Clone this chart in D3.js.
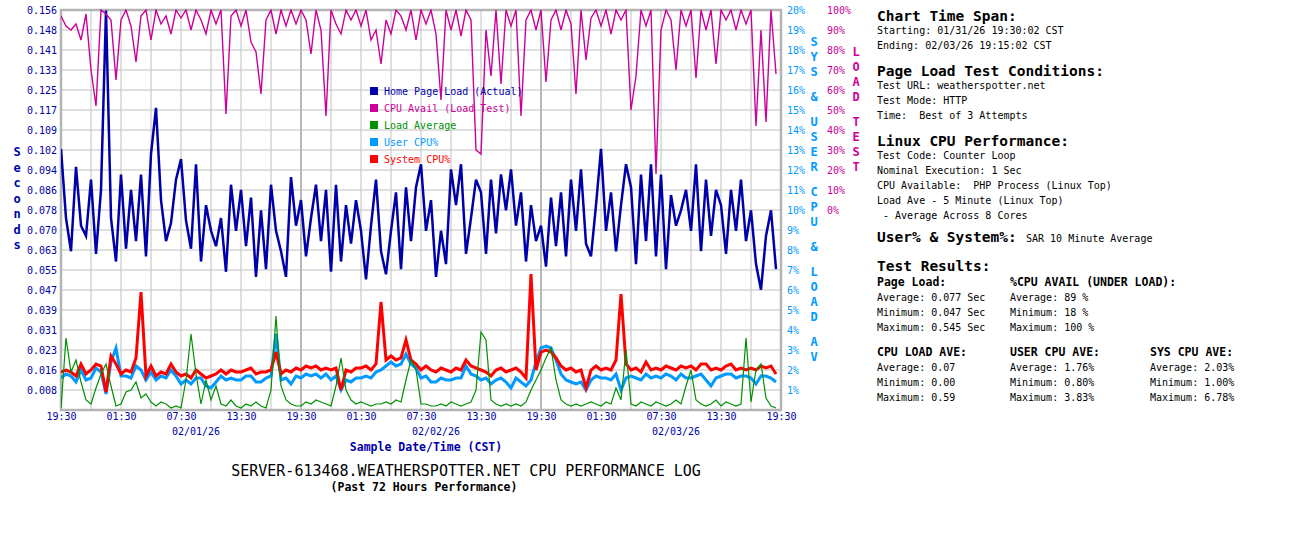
<!DOCTYPE html>
<html>
<head>
<meta charset="utf-8">
<script src="https://cdn.jsdelivr.net/npm/d3@7"></script>
<style>
  body { margin: 0; background: #fff; }
  text { font-family: "DejaVu Sans Mono", monospace; white-space: pre; }
</style>
</head>
<body>
<div id="chart"></div>
<script>
// samples every 30 min starting 01/31/26 19:30 CST
const pageLoad = [
  0.102, 0.075, 0.062, 0.095, 0.072, 0.068, 0.090, 0.061, 0.086, 0.156, 0.075, 0.058,
  0.092, 0.063, 0.086, 0.066, 0.092, 0.060, 0.100, 0.118, 0.082, 0.066, 0.073, 0.090,
  0.098, 0.074, 0.063, 0.096, 0.058, 0.080, 0.070, 0.064, 0.075, 0.054, 0.088, 0.070,
  0.086, 0.064, 0.083, 0.052, 0.078, 0.055, 0.088, 0.070, 0.062, 0.052, 0.091, 0.072,
  0.082, 0.060, 0.075, 0.088, 0.066, 0.086, 0.054, 0.088, 0.058, 0.080, 0.065, 0.082,
  0.070, 0.051, 0.072, 0.090, 0.062, 0.053, 0.070, 0.085, 0.055, 0.087, 0.066, 0.087,
  0.096, 0.070, 0.082, 0.052, 0.070, 0.057, 0.094, 0.080, 0.096, 0.061, 0.075, 0.090,
  0.085, 0.061, 0.090, 0.069, 0.092, 0.078, 0.094, 0.072, 0.085, 0.058, 0.080, 0.066,
  0.072, 0.056, 0.083, 0.064, 0.085, 0.060, 0.090, 0.070, 0.094, 0.065, 0.060, 0.080,
  0.102, 0.070, 0.085, 0.062, 0.080, 0.096, 0.087, 0.057, 0.092, 0.066, 0.096, 0.060,
  0.092, 0.055, 0.084, 0.072, 0.078, 0.086, 0.070, 0.096, 0.062, 0.090, 0.068, 0.086,
  0.080, 0.061, 0.086, 0.070, 0.090, 0.066, 0.078, 0.057, 0.047, 0.068, 0.078, 0.055
];
const cpuAvail = [
  97, 92, 90, 93, 85, 98, 70, 52, 100, 98, 95, 65,
  95, 100, 92, 74, 97, 100, 85, 100, 93, 97, 88, 100,
  96, 100, 90, 100, 95, 88, 100, 93, 100, 48, 97, 100,
  92, 100, 84, 79, 58, 95, 100, 88, 100, 92, 100, 93,
  100, 95, 78, 100, 90, 47, 100, 93, 88, 100, 95, 100,
  92, 100, 85, 90, 73, 95, 88, 100, 97, 90, 100, 85,
  100, 93, 100, 88, 55, 100, 90, 100, 87, 100, 95, 30,
  28, 90, 67, 100, 63, 100, 92, 100, 47, 95, 100, 90,
  100, 64, 95, 100, 90, 100, 93, 58, 100, 75, 96, 100,
  92, 100, 88, 100, 95, 100, 50, 67, 100, 92, 100, 18,
  90, 100, 95, 70, 100, 92, 100, 66, 100, 90, 100, 73,
  100, 95, 100, 90, 100, 93, 100, 42, 90, 44, 100, 68
];
// load average, plotted on the % axis
const loadAvg = [
  0.1, 3.6, 1.9, 2.5, 1.4, 0.5, 0.3, 1.1, 1.8, 2.3, 1.2, 0.2,
  0.3, 0.9, 1.0, 1.4, 0.6, 0.8, 0.4, 0.2, 0.4, 0.3, 0.1, 0.2,
  0.1, 1.5, 3.8, 1.8, 0.3, 1.5, 0.5, 1.2, 0.3, 0.2, 0.5, 0.2,
  0.1, 0.3, 0.2, 0.4, 0.2, 0.1, 1.0, 4.7, 1.2, 0.5, 0.3, 0.2,
  0.2, 0.4, 0.3, 0.5, 0.4, 0.3, 0.2, 1.2, 2.6, 1.0, 0.5, 0.3,
  0.4, 0.3, 0.2, 0.3, 0.3, 0.4, 0.3, 0.5, 0.4, 1.5, 2.5, 2.0,
  0.3, 0.3, 0.2, 0.2, 0.3, 0.2, 0.4, 0.3, 0.2, 0.3, 0.4, 1.0,
  3.9, 3.5, 0.5, 0.3, 0.2, 0.3, 0.2, 0.3, 0.2, 0.4, 1.0, 1.5,
  2.0, 2.6, 3.1, 1.5, 0.5, 0.3, 0.2, 0.3, 0.2, 0.3, 0.4, 0.3,
  0.2, 0.4, 0.3, 1.1, 0.5, 3.0, 0.3, 0.2, 0.4, 0.3, 0.2, 0.4,
  0.3, 0.2, 0.3, 0.5, 0.3, 1.2, 2.0, 0.5, 0.3, 0.2, 0.3, 0.5,
  0.2, 0.4, 0.3, 0.2, 0.3, 3.6, 0.4, 2.0, 2.3, 0.6, 0.2, 0.1
];
const userCpu = [
  1.6, 1.8, 1.7, 1.4, 2.0, 1.5, 1.6, 2.1, 1.9, 0.8, 2.4, 3.1,
  1.7, 1.7, 1.6, 2.2, 2.0, 1.5, 1.9, 1.5, 1.7, 1.6, 2.0, 1.7,
  1.3, 1.5, 1.3, 1.6, 1.6, 1.2, 1.1, 1.4, 1.7, 1.5, 1.6, 1.5,
  1.5, 1.7, 1.7, 1.4, 1.4, 1.6, 1.7, 3.8, 1.5, 1.6, 1.3, 1.7,
  1.6, 1.8, 1.7, 1.8, 1.6, 1.8, 1.5, 1.7, 1.0, 1.5, 1.4, 1.6,
  1.6, 1.7, 1.6, 1.9, 2.0, 2.2, 2.4, 2.2, 2.3, 2.8, 2.3, 2.1,
  1.6, 1.7, 1.4, 1.4, 1.6, 1.5, 1.5, 1.6, 1.6, 2.2, 1.8, 1.7,
  1.5, 1.6, 1.3, 1.5, 1.6, 1.4, 1.1, 1.6, 1.4, 1.2, 1.5, 2.4,
  3.1, 3.2, 3.1, 2.5, 1.8, 1.5, 1.4, 1.3, 1.4, 1.0, 1.5, 1.7,
  1.6, 1.6, 1.5, 1.8, 1.0, 1.6, 1.7, 1.6, 1.5, 1.8, 1.6, 1.7,
  1.6, 1.8, 1.7, 1.5, 1.8, 1.6, 1.6, 1.7, 1.8, 1.5, 1.2, 1.6,
  1.7, 1.8, 1.8, 1.6, 1.7, 1.7, 1.6, 1.3, 1.7, 1.7, 1.6, 1.4
];
const sysCpu = [
  1.9, 2.0, 1.9, 1.7, 2.3, 1.8, 2.0, 2.3, 2.2, 0.9, 2.7, 2.3,
  1.8, 2.0, 1.9, 2.6, 5.9, 1.7, 2.2, 1.7, 1.9, 1.8, 2.3, 1.9,
  1.7, 1.8, 1.6, 2.0, 1.8, 1.6, 1.7, 1.8, 2.0, 1.8, 2.0, 1.9,
  1.9, 2.0, 2.1, 1.8, 1.9, 1.9, 2.0, 2.9, 1.8, 2.0, 1.9, 2.1,
  2.0, 2.2, 2.1, 2.2, 2.0, 2.1, 2.0, 2.1, 1.0, 2.0, 1.9, 2.1,
  2.1, 2.2, 2.0, 2.3, 5.4, 2.5, 2.7, 2.5, 2.6, 3.5, 2.5, 2.3,
  2.0, 2.2, 2.0, 1.9, 2.1, 2.0, 1.9, 2.1, 2.0, 2.5, 2.2, 2.1,
  2.0, 1.9, 1.7, 2.0, 2.1, 1.9, 2.0, 2.1, 1.9, 1.6, 6.8, 2.0,
  2.9, 3.0, 2.9, 2.6, 2.2, 2.0, 2.1, 1.9, 2.0, 1.1, 2.0, 2.2,
  2.0, 2.1, 2.0, 2.5, 5.8, 2.3, 2.0, 2.1, 1.9, 2.4, 2.0, 2.1,
  2.0, 2.2, 2.1, 2.0, 2.2, 2.1, 2.2, 2.0, 2.3, 2.3, 2.0, 2.1,
  2.0, 2.2, 2.3, 2.0, 2.1, 2.0, 2.1, 2.0, 2.2, 2.1, 2.2, 1.8
];

const secTicks = ["0.008", "0.016", "0.023", "0.031", "0.039", "0.047", "0.055", "0.063", "0.070", "0.078",
  "0.086", "0.094", "0.102", "0.109", "0.117", "0.125", "0.133", "0.141", "0.148", "0.156"];
const pctTicks = ["1%", "2%", "3%", "4%", "5%", "6%", "7%", "8%", "9%", "10%",
  "11%", "12%", "13%", "14%", "15%", "16%", "17%", "18%", "19%", "20%"];
const testTicks = ["0%", "10%", "20%", "30%", "40%", "50%", "60%", "70%", "80%", "90%", "100%"];
const hourTicks = ["19:30", "01:30", "07:30", "13:30", "19:30", "01:30", "07:30", "13:30",
  "19:30", "01:30", "07:30", "13:30", "19:30"];
const dayLabels = ["02/01/26", "02/02/26", "02/03/26"];

const legendNames = ["Home Page Load (Actual)", "CPU Avail (Load Test)", "Load Average", "User CPU%", "System CPU%"];
const colors = { load: "#0000aa", avail: "#cc0099", loadAvg: "#009000", user: "#0099ff", sys: "#ff0000" };
const legendColors = [colors.load, colors.avail, colors.loadAvg, colors.user, colors.sys];

const width = 1300, height = 550;
const plot = { left: 61, right: 781, top: 10, bottom: 410 };

const svg = d3.select("#chart").append("svg")
  .attr("width", width).attr("height", height)
  .attr("viewBox", [0, 0, width, height]);

const t0 = new Date(2026, 0, 31, 19, 30);
const t1 = d3.timeHour.offset(t0, 72);
const times = pageLoad.map((d, i) => d3.timeMinute.offset(t0, 30 * i));

const x = d3.scaleTime().domain([t0, t1]).range([plot.left, plot.right]);
const ySec = d3.scaleLinear().domain([0, 0.15625]).range([plot.bottom, plot.top]);
const yPct = d3.scaleLinear().domain([0, 20]).range([plot.bottom, plot.top]);
const yTest = d3.scaleLinear().domain([0, 100]).range([210, plot.top]);

// grid
const secVals = secTicks.map((s, i) => (i + 1) * 0.15625 / 20);
svg.append("g").selectAll("line").data(secVals).join("line")
  .attr("x1", plot.left).attr("x2", plot.right)
  .attr("y1", d => ySec(d)).attr("y2", d => ySec(d))
  .attr("stroke", "#c0c0c0").attr("stroke-width", 1);

const gridTimes = d3.range(1, 24).map(k => d3.timeHour.offset(t0, 3 * k));
svg.append("g").selectAll("line").data(gridTimes).join("line")
  .attr("x1", d => x(d)).attr("x2", d => x(d))
  .attr("y1", plot.top).attr("y2", plot.bottom)
  .attr("stroke", (d, i) => (i + 1) % 8 === 0 ? "#b8b8b8" : "#c0c0c0")
  .attr("stroke-width", (d, i) => (i + 1) % 8 === 0 ? 2 : 1);

svg.append("rect")
  .attr("x", plot.left).attr("y", plot.top)
  .attr("width", plot.right - plot.left).attr("height", plot.bottom - plot.top)
  .attr("fill", "none").attr("stroke", "#b4b4b4").attr("stroke-width", 2.5);

// axes
function styleAxis(g, color) {
  g.select(".domain").remove();
  g.selectAll("text").attr("fill", color)
    .attr("font-family", "DejaVu Sans Mono, monospace").attr("font-size", 10);
}

svg.append("g").attr("transform", `translate(${plot.left},0)`)
  .call(d3.axisLeft(ySec).tickValues(secVals).tickFormat((d, i) => secTicks[i]).tickSize(0).tickPadding(4))
  .call(g => styleAxis(g, colors.load));

svg.append("g").attr("transform", `translate(${plot.right + 3},0)`)
  .call(d3.axisRight(yPct).tickValues(pctTicks.map((s, i) => i + 1)).tickFormat((d, i) => pctTicks[i]).tickSize(0).tickPadding(3))
  .call(g => styleAxis(g, colors.user));

svg.append("g").attr("transform", `translate(${plot.right + 43},0)`)
  .call(d3.axisRight(yTest).tickValues(testTicks.map((s, i) => i * 10)).tickFormat((d, i) => testTicks[i]).tickSize(0).tickPadding(3))
  .call(g => styleAxis(g, colors.avail));

const hourVals = hourTicks.map((s, i) => d3.timeHour.offset(t0, 6 * i));
svg.append("g").attr("transform", `translate(0,${plot.bottom})`)
  .call(d3.axisBottom(x).tickValues(hourVals).tickFormat((d, i) => hourTicks[i]).tickSize(0).tickPadding(3))
  .call(g => styleAxis(g, colors.load));

svg.append("g").selectAll("text").data(dayLabels).join("text")
  .attr("x", (d, i) => x(d3.timeHour.offset(new Date(2026, 1, 1 + i), 9)))
  .attr("y", 435).attr("text-anchor", "middle")
  .attr("font-size", 10).attr("fill", colors.load)
  .text(d => d);

svg.append("text").attr("x", 426).attr("y", 451).attr("text-anchor", "middle")
  .attr("font-size", 11.5).attr("font-weight", "bold").attr("fill", colors.load)
  .text("Sample Date/Time (CST)");

svg.append("text").attr("x", 466).attr("y", 476).attr("text-anchor", "middle")
  .attr("font-size", 15).attr("fill", "#000")
  .text("SERVER-613468.WEATHERSPOTTER.NET CPU PERFORMANCE LOG");
svg.append("text").attr("x", 424).attr("y", 491).attr("text-anchor", "middle")
  .attr("font-size", 11.5).attr("font-weight", "bold").attr("fill", "#000")
  .text("(Past 72 Hours Performance)");

// vertical axis titles, one character per line
function vertical(str, cx, y0, step, gap, color) {
  let y = y0;
  const g = svg.append("g");
  for (const ch of str) {
    if (ch === " ") { y += gap; continue; }
    g.append("text").attr("x", cx).attr("y", y).attr("dy", "0.35em")
      .attr("text-anchor", "middle").attr("font-size", 12).attr("font-weight", "bold")
      .attr("fill", color).text(ch);
    y += step;
  }
}
vertical("Seconds", 17, 152, 15.5, 0, colors.load);
vertical("SYS & USER CPU & LOAD AV", 814, 42, 15, 10, colors.user);
vertical("LOAD TEST", 856, 52, 15, 10, colors.avail);

// series
svg.append("clipPath").attr("id", "plotclip").append("rect")
  .attr("x", plot.left).attr("y", plot.top - 1)
  .attr("width", plot.right - plot.left).attr("height", plot.bottom - plot.top + 1);

const chart = svg.append("g").attr("clip-path", "url(#plotclip)");
const lineOf = scale => d3.line().x((d, i) => x(times[i])).y(d => scale(d));

chart.append("path").datum(userCpu).attr("d", lineOf(yPct))
  .attr("fill", "none").attr("stroke", colors.user).attr("stroke-width", 3);
chart.append("path").datum(sysCpu).attr("d", lineOf(yPct))
  .attr("fill", "none").attr("stroke", colors.sys).attr("stroke-width", 3);
chart.append("path").datum(loadAvg).attr("d", lineOf(yPct))
  .attr("fill", "none").attr("stroke", colors.loadAvg).attr("stroke-width", 1.2);
chart.append("path").datum(pageLoad).attr("d", lineOf(ySec))
  .attr("fill", "none").attr("stroke", colors.load).attr("stroke-width", 2.5);
chart.append("path").datum(cpuAvail).attr("d", lineOf(yTest))
  .attr("fill", "none").attr("stroke", colors.avail).attr("stroke-width", 1.4);

// legend
const legend = svg.append("g").attr("transform", "translate(370,91)");
legendNames.forEach((name, i) => {
  legend.append("rect").attr("x", 0).attr("y", i * 17 - 4).attr("width", 8).attr("height", 8)
    .attr("fill", legendColors[i]);
  legend.append("text").attr("x", 14).attr("y", i * 17).attr("dy", "0.35em")
    .attr("font-size", 10).attr("fill", legendColors[i]).text(name);
});

// info panel
const panel = svg.append("g");
function txt(px, py, s, kind) {
  const t = panel.append("text").attr("x", px).attr("y", py).attr("dy", "0.35em").attr("fill", "#000").text(s);
  if (kind === "h") t.attr("font-size", 14.5).attr("font-weight", "bold");
  else if (kind === "s") t.attr("font-size", 11.5).attr("font-weight", "bold");
  else t.attr("font-size", 10);
}
txt(877, 16, "Chart Time Span:", "h");
txt(877, 30, "Starting: 01/31/26 19:30:02 CST");
txt(877, 45, "Ending: 02/03/26 19:15:02 CST");
txt(877, 71, "Page Load Test Conditions:", "h");
txt(877, 85, "Test URL: weatherspotter.net");
txt(877, 100, "Test Mode: HTTP");
txt(877, 115, "Time:  Best of 3 Attempts");
txt(877, 141, "Linux CPU Performance:", "h");
txt(877, 155, "Test Code: Counter Loop");
txt(877, 170, "Nominal Execution: 1 Sec");
txt(877, 185, "CPU Available:  PHP Process (Linux Top)");
txt(877, 200, "Load Ave - 5 Minute (Linux Top)");
txt(877, 215, " - Average Across 8 Cores");
txt(877, 237, "User% & System%:", "h");
txt(1026, 238, "SAR 10 Minute Average");
txt(877, 266, "Test Results:", "h");

const resultCols = [
  { x: 877, y: 282, head: "Page Load:", rows: ["Average: 0.077 Sec", "Minimum: 0.047 Sec", "Maximum: 0.545 Sec"] },
  { x: 1010, y: 282, head: "%CPU AVAIL (UNDER LOAD):", rows: ["Average: 89 %", "Minimum: 18 %", "Maximum: 100 %"] },
  { x: 877, y: 352, head: "CPU LOAD AVE:", rows: ["Average: 0.07", "Minimum: 0.00", "Maximum: 0.59"] },
  { x: 1010, y: 352, head: "USER CPU AVE:", rows: ["Average: 1.76%", "Minimum: 0.80%", "Maximum: 3.83%"] },
  { x: 1150, y: 352, head: "SYS CPU AVE:", rows: ["Average: 2.03%", "Minimum: 1.00%", "Maximum: 6.78%"] }
];
resultCols.forEach(c => {
  txt(c.x, c.y, c.head, "s");
  c.rows.forEach((r, i) => txt(c.x, c.y + 15 * (i + 1), r));
});
</script>
</body>
</html>
